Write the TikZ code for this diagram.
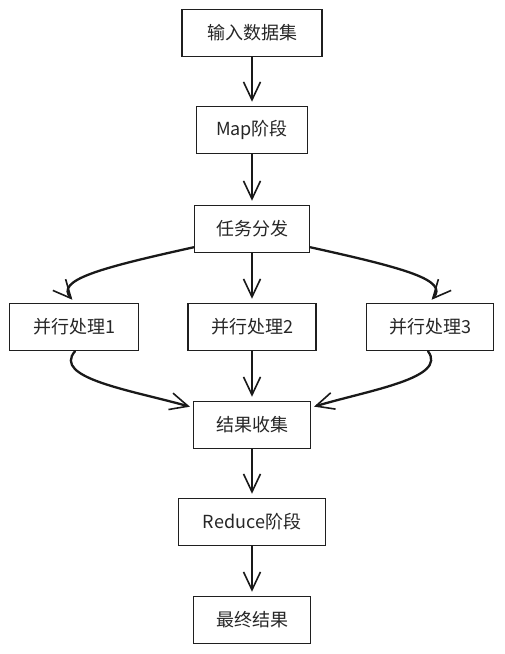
\documentclass[tikz,border=0pt]{standalone}
\usepackage{fontspec}
\setmainfont{Noto Sans CJK SC}
\usetikzlibrary{arrows.meta}
\begin{document}
\begin{tikzpicture}[x=1pt,y=-1pt,
  box/.style={draw=black!88,line width=1.5pt,inner sep=0pt,minimum height=47pt,font=\fontsize{18}{21}\selectfont,text=black!85},
  arr/.style={draw=black!90,line width=1.7pt,line cap=round,-{Straight Barb[length=18pt,width=17pt,line width=1.6pt]},shorten >=4pt},
  carr/.style={arr,line width=2.3pt}]
\useasboundingbox (0,0) rectangle (504,654);
\node[box,minimum width=140pt] (in) at (252,33) {输入数据集};
\node[box,minimum width=111pt] (map) at (252,130) {Map阶段};
\node[box,minimum width=115pt] (fa) at (252,229) {任务分发};
\node[box,minimum width=129pt] (p1) at (74,327) {并行处理1};
\node[box,minimum width=128pt] (p2) at (252,327) {并行处理2};
\node[box,minimum width=127pt] (p3) at (430,327) {并行处理3};
\node[box,minimum width=117pt] (col) at (252,425) {结果收集};
\node[box,minimum width=147pt] (red) at (252,522) {Reduce阶段};
\node[box,minimum width=117pt] (fin) at (252,620) {最终结果};
\draw[arr] (in) -- (map);
\draw[arr] (map) -- (fa);
\draw[arr] (fa) -- (p2);
\draw[arr] (col) -- (red);
\draw[arr] (red) -- (fin);
\draw[arr] (p2) -- (col);
\draw[carr] ([yshift=6pt]fa.south west) .. controls (100,268) and (55,280) .. ([xshift=1pt]p1.north);
\draw[carr] ([yshift=6pt]fa.south east) .. controls (404,268) and (449,280) .. ([xshift=-1pt]p3.north);
\draw[carr] ([xshift=1pt]p1.south) .. controls (52,378) and (130,390) .. ([xshift=1pt,yshift=-7pt]col.north west);
\draw[carr] ([xshift=-2pt]p3.south) .. controls (448,378) and (370,390) .. ([xshift=-1pt,yshift=-7pt]col.north east);
\end{tikzpicture}
\end{document}
